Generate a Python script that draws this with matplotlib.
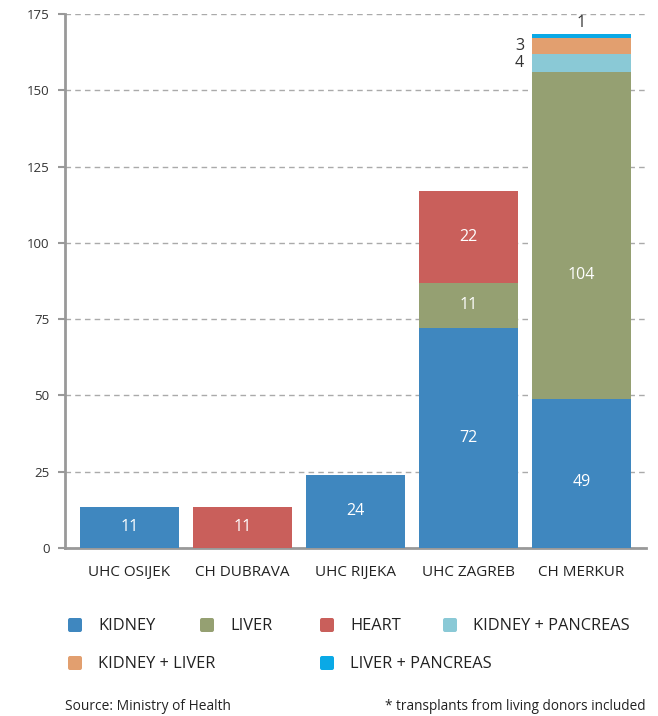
import numpy as np
import matplotlib.pyplot as plt
from matplotlib.patches import FancyBboxPatch

plt.rcParams['font.family'] = ['Open Sans', 'DejaVu Sans']

hospitals = ['UHC OSIJEK', 'CH DUBRAVA', 'UHC RIJEKA', 'UHC ZAGREB', 'CH MERKUR']
organs = ['KIDNEY', 'LIVER', 'HEART', 'KIDNEY + PANCREAS', 'KIDNEY + LIVER', 'LIVER + PANCREAS']
colors = ['#3f87bf', '#95a072', '#c95f5b', '#8ac9d6', '#e29f6f', '#0aa9e6']

# drawn segment heights
kidney = [13.5, 0, 24, 72, 49]
liver = [0, 0, 0, 15, 107]
heart = [0, 13.5, 0, 30, 0]
kidney_pancreas = [0, 0, 0, 0, 6]
kidney_liver = [0, 0, 0, 0, 5]
liver_pancreas = [0, 0, 0, 0, 1.5]

# printed labels
kidney_lbl = ['11', '', '24', '72', '49']
liver_lbl = ['', '', '', '11', '104']
heart_lbl = ['', '11', '', '22', '']
kidney_pancreas_lbl = ['', '', '', '', '4']
kidney_liver_lbl = ['', '', '', '', '3']
liver_pancreas_lbl = ['', '', '', '', '1']

series = [kidney, liver, heart, kidney_pancreas, kidney_liver, liver_pancreas]
labels = [kidney_lbl, liver_lbl, heart_lbl, kidney_pancreas_lbl, kidney_liver_lbl, liver_pancreas_lbl]

# the Merkur labels sit a bit below the middle of their segment
label_shift = {(0, 4): -3, (1, 4): -13}

fig = plt.figure(figsize=(6.58, 7.16), dpi=100)
ax = fig.add_axes([0.0988, 0.2346, 0.883, 0.7458])

x = np.arange(len(hospitals))
width = 0.876
bottom = np.zeros(len(hospitals))
for k, (vals, lbls, col) in enumerate(zip(series, labels, colors)):
    vals = np.array(vals, dtype=float)
    ax.bar(x, vals, width, bottom=bottom, color=col, zorder=3)
    for i, (v, t) in enumerate(zip(vals, lbls)):
        if not t:
            continue
        if v >= 10:
            ax.text(x[i], bottom[i] + v / 2 + label_shift.get((k, i), 0), t,
                    ha='center', va='center', color='white', fontsize=11.5, zorder=4)
        elif v >= 3:
            ax.text(x[i] - width / 2 - 0.07, bottom[i] + v / 2, t, ha='right',
                    va='center', color='#333333', fontsize=11.5)
        else:
            ax.text(x[i], bottom[i] + v + 0.8, t, ha='center', va='bottom',
                    color='#333333', fontsize=11.5)
    bottom += vals

ax.set_xlim(-0.571, 4.571)
ax.set_ylim(0, 175)
ax.set_yticks(np.arange(0, 176, 25))
ax.set_xticks(x)
ax.set_xticklabels(hospitals, fontsize=11, color='#222222')
ax.tick_params(axis='x', length=0, pad=12)
ax.tick_params(axis='y', length=5, width=1.5, color='#999999', labelsize=9.5,
               labelcolor='#333333', pad=6)
ax.grid(axis='y', linestyle=(0, (4, 3)), color='#aaaaaa', linewidth=1, zorder=0)
for s in ['top', 'right']:
    ax.spines[s].set_visible(False)
for s in ['left', 'bottom']:
    ax.spines[s].set_color('#999999')
    ax.spines[s].set_linewidth(2)

# legend drawn by hand: two rows
legend_pos = [(68, 625), (200, 625), (320, 625), (443, 625), (68, 663), (320, 663)]
W, H = 658.0, 716.0
for (px, py), name, col in zip(legend_pos, organs, colors):
    fig.add_artist(FancyBboxPatch((px / W, (H - py - 7) / H), 14 / W, 14 / H,
                                  boxstyle='round,pad=0,rounding_size=0.003',
                                  transform=fig.transFigure, color=col, linewidth=0))
    fig.text((px + 30) / W, (H - py - 1) / H, name, ha='left', va='center',
             fontsize=11.8, color='#222222')

fig.text(65 / W, (H - 706) / H, 'Source: Ministry of Health', ha='left', va='center',
         fontsize=9.9, color='#222222')
fig.text(646 / W, (H - 706) / H, '* transplants from living donors included', ha='right',
         va='center', fontsize=9.8, color='#222222')

fig.savefig('out.png', dpi=100)
